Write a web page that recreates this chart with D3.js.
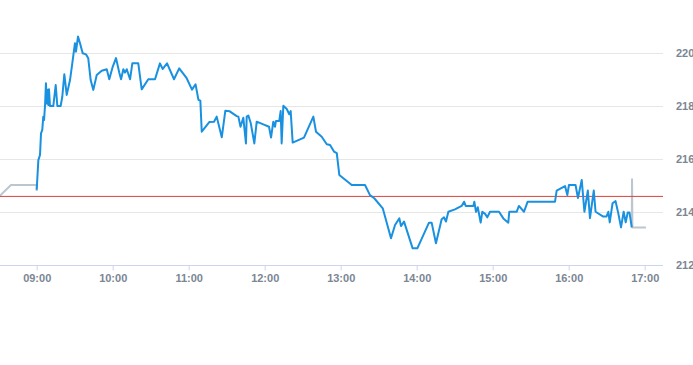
<!DOCTYPE html>
<html>
<head>
<meta charset="utf-8">
<script src="https://cdn.jsdelivr.net/npm/d3@7"></script>
<style>
html,body{margin:0;padding:0;background:#fff;}
svg{display:block;}
</style>
</head>
<body>
<svg id="chart" width="693" height="365"></svg>
<script>
// ---- data ----
const tradeDate = "2024-01-02";
const sessionOpen = "09:00";
// minutes after session open
const minutes = [0,1.3,2.6,3.4,4.4,5.2,5.8,6.6,7.3,7.9,8.7,9.2,9.7,10.5,13.1,15.0,16.3,18.9,20.2,21.8,23.7,26.3,28.1,30.2,31.0,32.6,34.2,36.3,38.9,40.7,42.6,44.7,47.4,51.3,55.3,57.3,60.0,62.6,65.2,66.6,68.4,69.7,71.1,73.7,75.5,80.2,82.9,88.1,93.4,97.3,99.5,102.9,108.4,112.5,118.4,122.6,125.4,127.7,129.2,130.3,136.4,140.0,142.1,146.1,148.9,152.4,157.9,159.2,160.9,163.1,165.2,165.8,167.1,169.0,171.8,173.7,178.9,183.4,185.0,186.8,188.1,188.9,191.5,192.6,193.4,194.7,197.4,199.4,200.5,202.1,211.0,218.4,220.5,225.0,229.0,231.6,234.7,236.9,238.9,248.7,259.2,263.1,266.5,273.2,279.7,282.9,286.3,287.6,290.0,296.8,300.5,309.7,311.8,315.2,319.7,321.6,323.1,325.0,330.2,335.5,337.4,338.7,344.7,345.5,346.8,348.2,350.5,351.8,354.0,355.7,357.9,365.0,368.4,372.3,373.1,378.9,380.7,384.7,387.6,409.2,410.5,417.1,418.9,420.2,425.4,427.3,430.3,432.4,435.1,436.8,439.8,441.2,447.3,449.8,451.3,452.4,454.6,457.0,459.2,461.3,463.4,465.0,466.6,468.0,469.8];
const prices = [214.85,215.97,216.16,216.98,217.11,217.61,217.48,218.05,218.87,218.11,218.62,218.05,218.64,218.01,218.01,218.80,218.01,218.01,218.36,219.21,218.43,218.99,219.62,220.38,220.06,220.63,220.38,220.0,219.96,219.81,218.99,218.62,219.18,219.34,219.40,219.02,219.49,219.82,219.27,219.02,219.40,219.27,219.40,219.02,219.62,219.62,218.64,219.02,219.02,219.62,219.41,219.62,219.02,219.43,219.06,218.63,218.83,218.24,218.21,217.04,217.41,217.42,217.61,216.83,217.83,217.81,217.63,217.61,217.23,217.57,216.60,217.61,217.65,217.36,216.60,217.42,217.32,217.23,216.82,217.42,217.23,217.45,217.45,217.82,216.60,218.02,217.90,217.70,217.82,216.63,216.82,217.61,217.04,216.85,216.57,216.54,216.29,216.23,215.41,215.03,215.03,214.65,214.53,214.15,213.02,213.52,213.77,213.48,213.65,212.64,212.64,213.61,213.61,212.83,213.74,213.81,213.65,214.02,214.11,214.24,214.40,214.24,214.24,214.40,214.02,214.19,213.61,214.02,213.94,213.81,214.02,214.02,213.77,213.61,214.02,214.02,214.24,214.02,214.40,214.40,214.82,214.99,214.65,215.03,215.03,214.54,215.22,214.02,214.82,213.78,214.82,214.02,213.84,213.84,214.02,213.62,214.34,214.42,213.95,213.43,214.02,213.62,213.99,213.99,213.43];
// extended-hours (grey) segments, minutes after open
const preMinutes = [-30,-20.3,0,0];
const prePrices = [214.58,215.03,215.03,214.80];
const postMinutes = [469.8,470.0,470.3,481];
const postPrices = [213.43,215.25,213.43,213.43];
const previousClose = 214.6;
const yTicks = [212,214,216,218,220];
const xTickLabels = ["09:00","10:00","11:00","12:00","13:00","14:00","15:00","16:00","17:00"];
const domainStart = "08:30", domainEnd = "17:15";

// ---- helpers ----
const parse = d3.timeParse("%Y-%m-%d %H:%M");
const openTime = parse(tradeDate + " " + sessionOpen);
const toDate = m => new Date(openTime.getTime() + m * 60000);

const svg = d3.select("#chart");
const x = d3.scaleTime()
  .domain([parse(tradeDate + " " + domainStart), parse(tradeDate + " " + domainEnd)])
  .range([-1.3, 663.7]);
const y = d3.scaleLinear().domain([212, 220]).range([265.3, 53.3]);
const plotLeft = 0, plotRight = 663;

// grid
svg.append("g").selectAll("line").data(yTicks.filter(t => t !== 212)).join("line")
  .attr("x1", plotLeft).attr("x2", plotRight)
  .attr("y1", d => Math.round(y(d)) + 0.5).attr("y2", d => Math.round(y(d)) + 0.5)
  .attr("stroke", "#e6e6e6").attr("stroke-width", 1);

// x axis
const xTicks = xTickLabels.map(s => parse(tradeDate + " " + s));
const xAxis = d3.axisBottom(x).tickValues(xTicks).tickFormat(d3.timeFormat("%H:%M")).tickSize(5).tickSizeOuter(0);
const gx = svg.append("g").attr("transform", `translate(0,${Math.round(y(212)) + 0.5})`).call(xAxis);
gx.select(".domain").attr("d", `M${plotLeft},0H${plotRight}`).attr("stroke", "#ccd6eb");
gx.selectAll(".tick line").attr("stroke", "#ccd6eb");
gx.selectAll(".tick text").attr("fill", "#7b8693").attr("font-family", "Liberation Sans, Arial, sans-serif")
  .attr("font-size", 11).attr("font-weight", "bold").attr("dy", "0.9em").attr("y", 7);

// y axis (right)
const yAxis = d3.axisRight(y).tickValues(yTicks).tickFormat(d3.format("d")).tickSize(0);
const gy = svg.append("g").attr("transform", `translate(675,0)`).call(yAxis);
gy.select(".domain").remove();
gy.selectAll(".tick text").attr("fill", "#7b8693").attr("font-family", "Liberation Sans, Arial, sans-serif")
  .attr("font-size", 11).attr("font-weight", "bold").attr("x", 1);

// lines
const line = d3.line().x(d => x(d[0])).y(d => y(d[1]));
const zipSeries = (ms, ps) => ms.map((m, i) => [toDate(m), ps[i]]);

svg.append("path").datum(zipSeries(preMinutes, prePrices))
  .attr("d", line).attr("fill", "none").attr("stroke", "#bcc6cf").attr("stroke-width", 2).attr("stroke-linejoin", "round");
svg.append("path").datum(zipSeries(postMinutes, postPrices))
  .attr("d", line).attr("fill", "none").attr("stroke", "#bcc6cf").attr("stroke-width", 2).attr("stroke-linejoin", "round");

// previous close
svg.append("line").attr("x1", plotLeft).attr("x2", plotRight)
  .attr("y1", y(previousClose)).attr("y2", y(previousClose))
  .attr("stroke", "#d8413a").attr("stroke-width", 1);

svg.append("path").datum(zipSeries(minutes, prices))
  .attr("d", line).attr("fill", "none").attr("stroke", "#1991e0").attr("stroke-width", 2).attr("stroke-linejoin", "round");
</script>
</body>
</html>
